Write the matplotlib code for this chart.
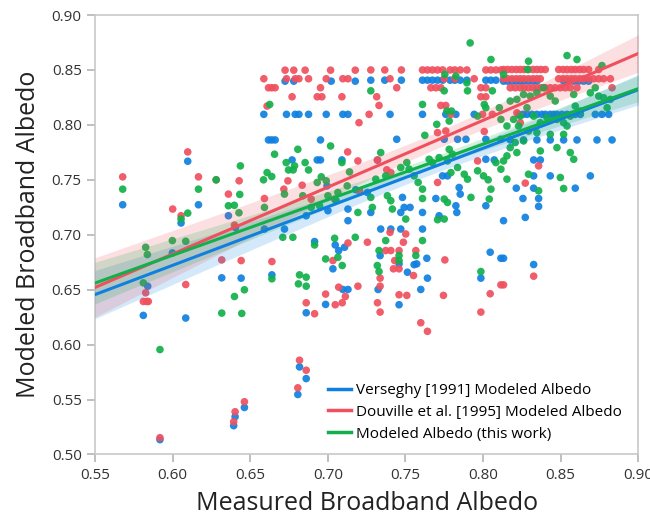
import numpy as np
import matplotlib
matplotlib.use("Agg")
import matplotlib.pyplot as plt
from matplotlib.lines import Line2D

plt.rcParams['font.family'] = ['Open Sans', 'DejaVu Sans']

# ---- data ----
blue_x = [0.5679, 0.6098, 0.6167, 0.6055, 0.5999, 0.636, 0.5840, 0.5812, 0.6085, 0.6317,
          0.5919, 0.6442, 0.664, 0.6861, 0.6986, 0.7097, 0.713, 0.7033, 0.707, 0.7048,
          0.7108, 0.6915, 0.6818, 0.6861, 0.6807, 0.6463, 0.6403, 0.6394, 0.6405,
          0.6725, 0.6781, 0.7022, 0.7177,
          0.6588, 0.6734, 0.679, 0.6814, 0.6876, 0.699, 0.7097, 0.713,
          0.6618, 0.6639, 0.6661, 0.6953,
          0.677, 0.6932, 0.6953, 0.7091,
          0.6861, 0.7001, 0.713, 0.6592, 0.6721, 0.713, 0.6995, 0.7180,
          0.7277, 0.7367, 0.7474, 0.761, 0.7642, 0.7674, 0.7707, 0.774, 0.7788, 0.7818,
          0.7853, 0.7896, 0.8018, 0.805, 0.8083,
          0.7401, 0.761, 0.776, 0.7825, 0.7943,
          0.7444, 0.775, 0.7836, 0.789, 0.8018, 0.8115,
          0.7320, 0.8018, 0.8072, 0.7255, 0.7277, 0.7481, 0.7492, 0.7530, 0.747, 0.761,
          0.7696, 0.7739, 0.7771, 0.7846, 0.7853, 0.7825, 0.7831, 0.8018, 0.7717, 0.761,
          0.7341, 0.7406, 0.747,
          0.7337, 0.7638, 0.8046, 0.8115, 0.7459, 0.7556, 0.7573, 0.7513, 0.7986, 0.7642,
          0.7324, 0.7599, 0.7459,
          0.8132, 0.8158, 0.8186, 0.8214, 0.824, 0.8265, 0.8293, 0.8321, 0.8347, 0.8519,
          0.8551, 0.8584, 0.8616, 0.8648, 0.868,
          0.8229, 0.8257, 0.8283, 0.8315, 0.8347, 0.8379, 0.8401, 0.8433, 0.8455, 0.8476,
          0.8508, 0.8541, 0.8573, 0.8594, 0.8627, 0.8723, 0.8766, 0.8809,
          0.8175, 0.8261, 0.8347, 0.8433, 0.8519, 0.8605, 0.8734, 0.8831,
          0.8326, 0.8369, 0.8326, 0.8433, 0.8691, 0.8214, 0.8326, 0.8594, 0.8257, 0.8358,
          0.8358, 0.8272, 0.8132, 0.8132, 0.8326]
blue_y = [0.7273, 0.7669, 0.7273, 0.7107, 0.6835, 0.7173, 0.6532, 0.6266, 0.6242, 0.6608,
          0.5135, 0.6605, 0.6635, 0.6290, 0.6366, 0.6502, 0.6502, 0.6690, 0.6856, 0.6907,
          0.6886, 0.6938, 0.5797, 0.5691, 0.5546, 0.5428, 0.5344, 0.5262, 0.7065,
          0.8398, 0.8398, 0.8398, 0.8398,
          0.8096, 0.8096, 0.8096, 0.8096, 0.8096, 0.8096, 0.8096, 0.8096,
          0.7863, 0.7863, 0.7863, 0.7863,
          0.7681, 0.7681, 0.7681, 0.7681,
          0.7173, 0.7219, 0.7234, 0.7052, 0.7052, 0.7128, 0.7445, 0.7410,
          0.8407, 0.8407, 0.8407, 0.8407, 0.8407, 0.8407, 0.8407, 0.8407, 0.8407, 0.8407,
          0.8407, 0.8407, 0.8407, 0.8407, 0.8407,
          0.8096, 0.8096, 0.8096, 0.8096, 0.8096,
          0.7869, 0.7869, 0.7869, 0.7869, 0.7869, 0.7869,
          0.7680, 0.7687, 0.7681, 0.7385, 0.7203, 0.7340, 0.7249, 0.7249, 0.7203, 0.7203,
          0.7330, 0.7536, 0.7536, 0.7430, 0.7370, 0.7264, 0.7203, 0.7264, 0.7173, 0.7052,
          0.7052, 0.7052, 0.7052,
          0.6810, 0.6786, 0.6841, 0.6786, 0.6735, 0.6728, 0.6735, 0.6659, 0.6605, 0.6605,
          0.6502, 0.6502, 0.6363,
          0.8398, 0.8398, 0.8398, 0.8398, 0.8398, 0.8398, 0.8398, 0.8398, 0.8398, 0.8398,
          0.8398, 0.8398, 0.8398, 0.8398, 0.8398,
          0.8096, 0.8096, 0.8096, 0.8096, 0.8096, 0.8096, 0.8096, 0.8096, 0.8096, 0.8096,
          0.8096, 0.8096, 0.8096, 0.8096, 0.8096, 0.8096, 0.8096, 0.8096,
          0.7863, 0.7863, 0.7863, 0.7863, 0.7863, 0.7863, 0.7863, 0.7863,
          0.7681, 0.7681, 0.7536, 0.7536, 0.7536, 0.7424, 0.7424, 0.7424, 0.7330, 0.7330,
          0.7258, 0.7158, 0.7128, 0.6786, 0.6729]

red_x = [0.5679, 0.6098, 0.6167, 0.6001, 0.6055, 0.6281, 0.636, 0.5827, 0.5812, 0.5833,
         0.5844, 0.6085, 0.6317, 0.5919, 0.6442, 0.664, 0.6861, 0.6915, 0.6986, 0.7048,
         0.7093, 0.7113, 0.707, 0.7194, 0.7033, 0.713, 0.6818, 0.6861, 0.6807, 0.6463,
         0.6403, 0.6394,
         0.6725, 0.6781, 0.6854, 0.7018, 0.7177,
         0.6588, 0.6734, 0.679, 0.6814, 0.6876, 0.699, 0.7097, 0.713,
         0.6618, 0.6639, 0.6661, 0.6953,
         0.677, 0.6932, 0.6962, 0.7091,
         0.6609, 0.7201, 0.7128, 0.7194, 0.6429, 0.6743, 0.6835, 0.6717, 0.6592, 0.6893,
         0.7044, 0.7205, 0.6399,
         0.7277, 0.7367, 0.7474, 0.761, 0.7642, 0.7674, 0.7707, 0.774, 0.7788, 0.7818,
         0.7853, 0.7896, 0.8018, 0.805, 0.8083, 0.8115,
         0.7401, 0.775, 0.7818, 0.7943,
         0.7444, 0.7664, 0.7696, 0.7728, 0.7986, 0.8018,
         0.7315, 0.7986, 0.8018,
         0.733, 0.7728, 0.776,
         0.7266, 0.7793, 0.7997, 0.806,
         0.8008, 0.7707, 0.776, 0.732, 0.738, 0.7406, 0.7707, 0.7965, 0.7401, 0.7502,
         0.7255, 0.7487, 0.7373, 0.7406, 0.7459, 0.7567, 0.7754, 0.7431, 0.7423, 0.7459,
         0.7552, 0.7337, 0.8115, 0.7337, 0.7459, 0.7509, 0.7745, 0.8046, 0.7320, 0.7337,
         0.7986, 0.7599, 0.7642, 0.8326, 0.8132,
         0.8132, 0.8158, 0.8186, 0.8214, 0.824, 0.8265, 0.8293, 0.8321, 0.8347, 0.8373,
         0.8401, 0.8487, 0.8515, 0.8541, 0.8569, 0.8594, 0.8622, 0.8648, 0.868, 0.8745,
         0.8132, 0.8158, 0.8186, 0.8214, 0.824, 0.8265, 0.8293, 0.8321, 0.8347, 0.8369,
         0.8487, 0.8515, 0.8541, 0.8569, 0.8594, 0.8622, 0.8648, 0.868, 0.8712, 0.8745,
         0.8777, 0.882,
         0.8175, 0.8207, 0.824, 0.8265, 0.8293, 0.8321, 0.8347, 0.8373, 0.8401, 0.8433,
         0.8465, 0.8498, 0.853, 0.8562, 0.8605, 0.8831,
         0.8358, 0.8272, 0.824, 0.8218]
red_y = [0.7527, 0.7754, 0.7527, 0.7234, 0.7173, 0.7500, 0.7370, 0.6472, 0.6393, 0.6393,
         0.6393, 0.6547, 0.6771, 0.5153, 0.6765, 0.6756, 0.6381, 0.6281, 0.6460, 0.6363,
         0.6381, 0.6438, 0.6523, 0.6532, 0.6765, 0.6925, 0.5858, 0.5767, 0.5607, 0.5480,
         0.5389, 0.5298,
         0.8498, 0.8498, 0.8498, 0.8498, 0.8498,
         0.8420, 0.8420, 0.8420, 0.8420, 0.8420, 0.8420, 0.8420, 0.8420,
         0.8338, 0.8338, 0.8338, 0.8338,
         0.8256, 0.8256, 0.8256, 0.8256,
         0.8171, 0.8020, 0.7754, 0.7672, 0.7491, 0.7491, 0.7451, 0.7415, 0.7330, 0.7324,
         0.7324, 0.7400, 0.7088,
         0.8500, 0.8500, 0.8500, 0.8500, 0.8500, 0.8500, 0.8500, 0.8500, 0.8500, 0.8500,
         0.8500, 0.8500, 0.8500, 0.8500, 0.8500, 0.8500,
         0.8420, 0.8420, 0.8420, 0.8420,
         0.8338, 0.8338, 0.8338, 0.8338, 0.8338, 0.8338,
         0.8256, 0.8256, 0.8256,
         0.8177, 0.8177, 0.8177,
         0.8096, 0.8096, 0.8096, 0.8096,
         0.7940, 0.7930, 0.7945, 0.7680, 0.7591, 0.7566, 0.7476, 0.7672, 0.7022, 0.7007,
         0.6932, 0.6932, 0.6856, 0.6856, 0.6856, 0.6856, 0.6771, 0.6765, 0.6690, 0.6690,
         0.6629, 0.6605, 0.6544, 0.6532, 0.6454, 0.6448, 0.6448, 0.6463, 0.6381, 0.6296,
         0.6296, 0.6199, 0.6121, 0.6623, 0.6544,
         0.8504, 0.8504, 0.8504, 0.8504, 0.8504, 0.8504, 0.8504, 0.8504, 0.8504, 0.8504,
         0.8504, 0.8504, 0.8504, 0.8504, 0.8504, 0.8504, 0.8504, 0.8504, 0.8504, 0.8504,
         0.8420, 0.8420, 0.8420, 0.8420, 0.8420, 0.8420, 0.8420, 0.8420, 0.8420, 0.8420,
         0.8420, 0.8420, 0.8420, 0.8420, 0.8420, 0.8420, 0.8420, 0.8420, 0.8420, 0.8420,
         0.8420, 0.8420,
         0.8338, 0.8338, 0.8338, 0.8338, 0.8338, 0.8338, 0.8338, 0.8338, 0.8338, 0.8338,
         0.8338, 0.8338, 0.8338, 0.8338, 0.8338, 0.8338,
         0.7627, 0.7470, 0.8020, 0.8110]

green_x = [0.5679, 0.6167, 0.6055, 0.6098, 0.6281, 0.636, 0.5827, 0.5838, 0.5999, 0.6085,
           0.5812, 0.6317, 0.5919, 0.664, 0.6399, 0.6463, 0.6446, 0.6818, 0.6861, 0.6811,
           0.6861, 0.6986, 0.7065, 0.7093, 0.7044, 0.7177, 0.671, 0.6775, 0.6915,
           0.6398, 0.6428,
           0.6626, 0.7018, 0.6657, 0.6807, 0.6437, 0.6732, 0.6786, 0.6854, 0.6876, 0.6747,
           0.6777, 0.6609, 0.6639, 0.6586, 0.6433, 0.6958, 0.699, 0.6932, 0.7091, 0.714,
           0.7125, 0.6721, 0.6839, 0.7001, 0.7065, 0.6592, 0.6893, 0.6947, 0.7054, 0.7194,
           0.7917, 0.8051, 0.7754, 0.7825, 0.7896, 0.7277, 0.775, 0.79, 0.806, 0.761,
           0.8008, 0.8018, 0.8105, 0.7767, 0.7797, 0.7702, 0.7782, 0.7965, 0.8115, 0.7625,
           0.7277, 0.7309, 0.7341, 0.7373, 0.7406, 0.7384, 0.747, 0.7509, 0.7524, 0.7556,
           0.7582, 0.761, 0.7653, 0.7674, 0.7717, 0.7771, 0.7803, 0.7836, 0.7879, 0.79,
           0.7793, 0.7782, 0.7965, 0.8003, 0.8033, 0.8083, 0.8115, 0.775, 0.7771, 0.7287,
           0.7416, 0.7502, 0.761, 0.775, 0.7707, 0.7922, 0.8051, 0.804,
           0.7373, 0.761, 0.733, 0.7459, 0.7567, 0.7319, 0.7330, 0.7986, 0.7459,
           0.8293, 0.8541, 0.8605, 0.8766, 0.8132, 0.8287, 0.839, 0.8347, 0.8304, 0.8261,
           0.8218, 0.8175, 0.8433, 0.8465, 0.8584, 0.8594, 0.8691, 0.8723, 0.8745, 0.8777,
           0.882, 0.8799, 0.8627, 0.8562, 0.8519, 0.8476, 0.8412, 0.8369, 0.8326, 0.8283,
           0.8240, 0.8197, 0.8154, 0.8229, 0.8293, 0.8347, 0.8261, 0.8207, 0.8175, 0.8433,
           0.8519, 0.8541, 0.8562, 0.8584, 0.8476, 0.8369, 0.8218, 0.8154, 0.8132, 0.8154,
           0.8293, 0.8498, 0.8358, 0.8519]
green_y = [0.7415, 0.7415, 0.7143, 0.7197, 0.7500, 0.7264, 0.6886, 0.6820, 0.6947, 0.6941,
           0.6562, 0.6287, 0.5955, 0.6599, 0.6438, 0.6499, 0.6284, 0.6635, 0.6614, 0.6553,
           0.6532, 0.6780, 0.6795, 0.6720, 0.6968, 0.6977, 0.6977, 0.6977, 0.6907,
           0.7268, 0.7200,
           0.8186, 0.7808, 0.7733, 0.7778, 0.7627, 0.7657, 0.7627, 0.7657, 0.7590, 0.7590,
           0.7590, 0.7566, 0.7530, 0.7500, 0.7367, 0.7527, 0.7491, 0.7476, 0.7657, 0.7572,
           0.7445, 0.7370, 0.7355, 0.7355, 0.7385, 0.7249, 0.7249, 0.7264, 0.7310, 0.7203,
           0.8746, 0.8595, 0.8459, 0.8444, 0.8383, 0.8310, 0.8310, 0.8310, 0.8310, 0.8186,
           0.8186, 0.8156, 0.8156, 0.8126, 0.8126, 0.8005, 0.8035, 0.8080, 0.8050, 0.7905,
           0.7340, 0.7506, 0.7748, 0.7536, 0.7310, 0.7355, 0.7612, 0.7657, 0.7597, 0.7536,
           0.7476, 0.7415, 0.7687, 0.7657, 0.7702, 0.7672, 0.7733, 0.7612, 0.7551, 0.7506,
           0.7566, 0.7778, 0.7582, 0.7536, 0.7500, 0.7657, 0.7597, 0.7325, 0.7294, 0.7249,
           0.7234, 0.7143, 0.7330, 0.7143, 0.7137, 0.7340, 0.7415, 0.7325,
           0.6947, 0.6947, 0.6856, 0.6811, 0.6811, 0.6720, 0.6665, 0.6665, 0.6765,
           0.8580, 0.8631, 0.8595, 0.8540, 0.8459, 0.8504, 0.8338, 0.8292, 0.8262, 0.8277,
           0.8232, 0.8217, 0.8262, 0.8217, 0.8277, 0.8171, 0.8292, 0.8338, 0.8262, 0.8247,
           0.8232, 0.8156, 0.8126, 0.8080, 0.8020, 0.8050, 0.8065, 0.8020, 0.8080, 0.8156,
           0.8080, 0.8050, 0.7990, 0.7990, 0.7944, 0.7929, 0.7854, 0.7839, 0.7793, 0.7914,
           0.7914, 0.7990, 0.7748, 0.7687, 0.7793, 0.7763, 0.7748, 0.7718, 0.7672, 0.7506,
           0.7551, 0.7521, 0.7400, 0.7421]

# regression lines (value at x=0.55 and x=0.90) and CI shape
fit_x = [0.55, 0.90]
blue_fit = [0.6455, 0.8320]
red_fit = [0.6520, 0.8650]
green_fit = [0.6560, 0.8330]
ci_center = 0.77
blue_ci = [0.0060, 0.096]
red_ci = [0.0075, 0.118]
green_ci = [0.0050, 0.083]

labels = ['Verseghy [1991] Modeled Albedo',
          'Douville et al. [1995] Modeled Albedo',
          'Modeled Albedo (this work)']
c_blue = '#1080E0'
c_red = '#F0505E'
c_green = '#12B04C'

fig = plt.figure(figsize=(6.5, 5.18), dpi=100)
ax = fig.add_axes([0.146, 0.1226, 0.836, 0.8484])

series = [(blue_x, blue_y, blue_fit, blue_ci, c_blue),
          (red_x, red_y, red_fit, red_ci, c_red),
          (green_x, green_y, green_fit, green_ci, c_green)]

for sx, sy, fit, ci, col in series:
    ax.scatter(sx, sy, s=30, color=col, edgecolors='none', alpha=0.92, zorder=2)

xx = np.linspace(0.55, 0.90, 100)
for sx, sy, fit, ci, col in series:
    yy = np.interp(xx, fit_x, fit)
    hw = np.sqrt(ci[0] ** 2 + (ci[1] * (xx - ci_center)) ** 2)
    ax.fill_between(xx, yy - hw, yy + hw, color=col, alpha=0.18, lw=0, zorder=3)
    ax.plot(xx, yy, color=col, lw=2.2, zorder=4)

ax.set_xlim(0.55, 0.90)
ax.set_ylim(0.50, 0.90)
ax.set_xticks(np.arange(0.55, 0.901, 0.05))
ax.set_yticks(np.arange(0.50, 0.901, 0.05))
ax.xaxis.set_major_formatter(matplotlib.ticker.FormatStrFormatter('%.2f'))
ax.yaxis.set_major_formatter(matplotlib.ticker.FormatStrFormatter('%.2f'))
for sp in ax.spines.values():
    sp.set_color('#c8c8c8')
    sp.set_linewidth(1.2)
ax.tick_params(direction='out', length=6, width=1.2, color='#b4b4b4',
               labelcolor='#333333', labelsize=11)

ax.set_xlabel('Measured Broadband Albedo', fontsize=18, color='#222222', labelpad=6)
ax.set_ylabel('Modeled Broadband Albedo', fontsize=18, color='#222222', labelpad=8)

handles = [Line2D([0], [0], color=c, lw=2.5) for c in (c_blue, c_red, c_green)]
ax.legend(handles, labels, loc='upper left', bbox_to_anchor=(0.429, 0.163),
          frameon=False, fontsize=11, handlelength=1.5, handletextpad=0.35,
          labelspacing=0.45, borderpad=0, borderaxespad=0)

fig.savefig('out.png', dpi=100)
